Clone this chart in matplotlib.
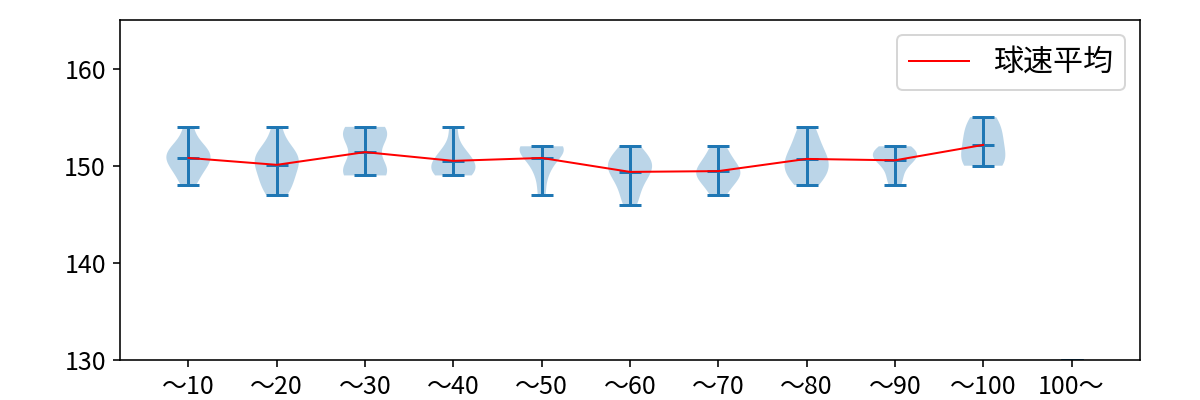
import matplotlib
matplotlib.use('Agg')
import matplotlib.pyplot as plt
import numpy as np

plt.rcParams['font.family'] = ['Noto Sans CJK JP', 'DejaVu Sans']

# pitch speed (km/h) per pitch-count bin
labels = ['～10', '～20', '～30', '～40', '～50', '～60', '～70', '～80', '～90', '～100', '100～']
speeds = [
    [148, 149, 150, 150, 151, 151, 151, 152, 152, 154],
    [147, 148, 148, 149, 150, 150, 151, 151, 151, 152, 154],
    [149, 149, 149, 150, 150, 153, 153, 153, 154, 154],
    [149, 149, 149, 150, 150, 150, 151, 151, 152, 154],
    [147, 149, 150, 151, 151, 152, 152, 152, 152, 152],
    [146, 147, 148, 149, 149, 150, 150, 150, 151, 151, 152],
    [147, 148, 149, 149, 149, 150, 150, 151, 152],
    [148, 149, 149, 150, 150, 151, 151, 152, 153, 154],
    [148, 149, 150, 151, 151, 151, 151, 152, 152],
    [150, 150, 151, 152, 153, 154, 155],
    [130],
]

fig, ax = plt.subplots(figsize=(1200 / 144, 400 / 144), dpi=144)
fig.subplots_adjust(left=0.1, right=0.95, top=0.95, bottom=0.1)

positions = np.arange(1, len(labels) + 1)
ax.violinplot(speeds, positions=positions, showmeans=True)

# mean line only for bins with real data
means = [np.mean(s) for s in speeds[:10]]
ax.plot(positions[:10], means, color='red', linewidth=1, label='球速平均')

ax.set_xticks(positions)
ax.set_xticklabels(labels, fontsize=12.5)
ax.set_yticks([130, 140, 150, 160])
ax.tick_params(axis='y', labelsize=12.5)
ax.set_ylim(130, 165)
ax.legend(loc='upper right', fontsize=15)

fig.savefig('out.png', dpi=144)
